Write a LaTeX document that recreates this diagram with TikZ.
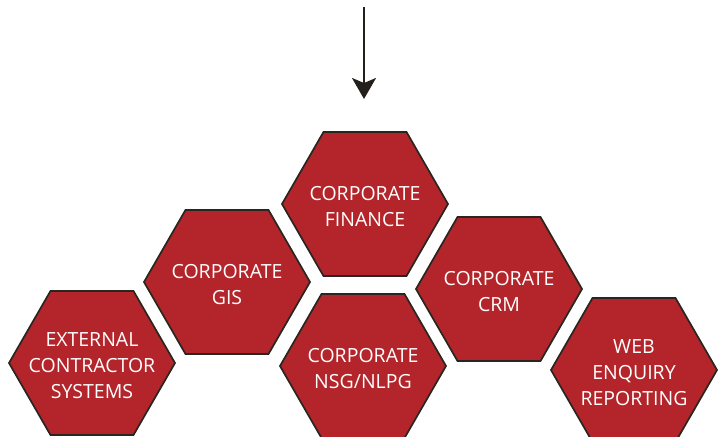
\documentclass[tikz,border=0pt]{standalone}
\usepackage{fontspec}
\setmainfont{Open Sans}
\usetikzlibrary{arrows.meta}
\definecolor{hexred}{HTML}{B3252A}
\definecolor{hexline}{HTML}{2A2520}
\definecolor{arrowcol}{HTML}{231F1A}
\tikzset{
  hexshape/.style={fill=hexred, draw=hexline, line width=1.7pt, line join=miter},
  hextext/.style={text=white, align=center, font=\fontsize{19.5}{26}\selectfont, inner sep=0pt},
  flowarrow/.style={draw=arrowcol, line width=2pt, -{Stealth[length=21pt,width=24pt,inset=5pt]}}
}
\newcommand\myhex[4]{%
  \draw[hexshape] (#2+83,#3) -- (#2+41.5,#3+72) -- (#2-41.5,#3+72) -- (#2-83,#3)
     -- (#2-41.5,#3-72) -- (#2+41.5,#3-72) -- cycle;
  \node[hextext] (#1) at (#2,#3+3) {#4};
}
\begin{document}
\begin{tikzpicture}[x=1pt,y=-1pt]
\useasboundingbox (0,0) rectangle (719,436);
\coordinate (arrowtop) at (364,7);
\coordinate (arrowtip) at (364,99);
\draw[flowarrow] (arrowtop) -- (arrowtip);
\myhex{finance}{365}{204}{CORPORATE\\FINANCE}
\myhex{gis}{227}{282}{CORPORATE\\GIS}
\myhex{crm}{499}{289}{CORPORATE\\CRM}
\myhex{nsg}{363}{366}{CORPORATE\\NSG/NLPG}
\myhex{ext}{92}{363}{EXTERNAL\\CONTRACTOR\\SYSTEMS}
\myhex{web}{634}{370}{WEB\\ENQUIRY\\REPORTING}
\end{tikzpicture}
\end{document}
